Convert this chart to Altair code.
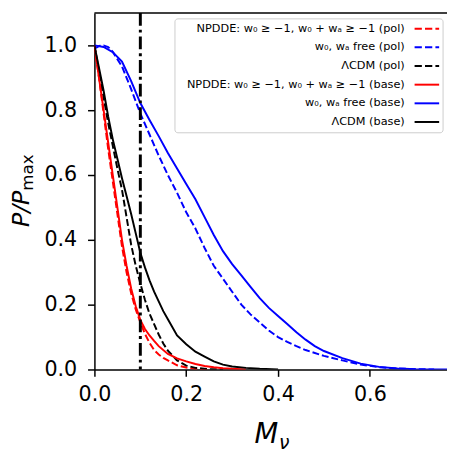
import altair as alt
import pandas as pd

# ---------------- data ----------------
names = [
    "NPDDE: w₀ ≥ −1, w₀ + wₐ ≥ −1 (pol)",
    "w₀, wₐ free (pol)",
    "ΛCDM (pol)",
    "NPDDE: w₀ ≥ −1, w₀ + wₐ ≥ −1 (base)",
    "w₀, wₐ free (base)",
    "ΛCDM (base)",
]
colors = ["#ff0000", "#0000ff", "#000000", "#ff0000", "#0000ff", "#000000"]
dashed = [True, True, True, False, False, False]

x_np_pol = [0, 0.01, 0.02, 0.03, 0.04, 0.05, 0.06, 0.07, 0.08, 0.09, 0.10, 0.11, 0.12,
            0.13, 0.14, 0.15, 0.16, 0.18, 0.20, 0.22, 0.25]
y_np_pol = [1.0, 0.90, 0.79, 0.68, 0.58, 0.48, 0.38, 0.30, 0.235, 0.185, 0.145, 0.11, 0.082,
            0.06, 0.046, 0.036, 0.028, 0.013, 0.006, 0.002, 0.0]

x_free_pol = [0, 0.01, 0.02, 0.03, 0.04, 0.06, 0.08, 0.10, 0.12, 0.14, 0.16, 0.18, 0.20,
              0.22, 0.24, 0.26, 0.28, 0.30, 0.32, 0.34, 0.36, 0.38, 0.40, 0.42, 0.44,
              0.46, 0.50, 0.54, 0.58, 0.62, 0.66, 0.70, 0.74]
y_free_pol = [0.99, 0.998, 1.0, 0.995, 0.98, 0.935, 0.865, 0.79, 0.725, 0.66, 0.60, 0.545,
              0.485, 0.435, 0.375, 0.32, 0.28, 0.24, 0.20, 0.17, 0.145, 0.12, 0.10, 0.085,
              0.072, 0.06, 0.042, 0.028, 0.015, 0.007, 0.003, 0.001, 0.0]

x_lcdm_pol = [0, 0.01, 0.02, 0.03, 0.04, 0.05, 0.06, 0.07, 0.08, 0.09, 0.10, 0.11, 0.12,
              0.13, 0.14, 0.15, 0.16, 0.18, 0.20, 0.22, 0.25, 0.28]
y_lcdm_pol = [1.0, 0.92, 0.84, 0.76, 0.69, 0.62, 0.555, 0.47, 0.385, 0.32, 0.265, 0.215,
              0.172, 0.14, 0.108, 0.08, 0.058, 0.028, 0.012, 0.005, 0.001, 0.0]

x_np_base = [0, 0.01, 0.02, 0.03, 0.04, 0.05, 0.06, 0.07, 0.08, 0.09, 0.10, 0.11, 0.12,
             0.13, 0.14, 0.16, 0.18, 0.20, 0.22, 0.24, 0.26, 0.28, 0.30, 0.33]
y_np_base = [1.0, 0.90, 0.80, 0.70, 0.60, 0.50, 0.40, 0.32, 0.25, 0.195, 0.153, 0.125, 0.105,
             0.088, 0.072, 0.048, 0.034, 0.025, 0.017, 0.011, 0.007, 0.004, 0.002, 0.0]

x_free_base = [0, 0.02, 0.04, 0.06, 0.08, 0.10, 0.12, 0.14, 0.16, 0.18, 0.20, 0.22, 0.24,
               0.26, 0.28, 0.30, 0.32, 0.34, 0.36, 0.38, 0.40, 0.42, 0.44, 0.46, 0.48,
               0.50, 0.54, 0.58, 0.62, 0.66, 0.70, 0.77]
y_free_base = [1.0, 0.995, 0.979, 0.95, 0.89, 0.822, 0.77, 0.72, 0.668, 0.62, 0.572, 0.525,
               0.47, 0.415, 0.365, 0.325, 0.29, 0.255, 0.22, 0.19, 0.165, 0.14, 0.115,
               0.092, 0.072, 0.057, 0.035, 0.018, 0.008, 0.003, 0.001, 0.0]

x_lcdm_base = [0, 0.01, 0.02, 0.03, 0.04, 0.05, 0.06, 0.07, 0.08, 0.09, 0.10, 0.11, 0.12,
               0.13, 0.14, 0.15, 0.16, 0.18, 0.20, 0.22, 0.24, 0.26, 0.28, 0.30, 0.33,
               0.36, 0.40]
y_lcdm_base = [1.0, 0.93, 0.86, 0.78, 0.71, 0.65, 0.59, 0.535, 0.48, 0.42, 0.36, 0.315,
               0.275, 0.24, 0.21, 0.18, 0.155, 0.105, 0.078, 0.055, 0.04, 0.025, 0.015,
               0.009, 0.005, 0.002, 0.0]

series_x = [x_np_pol, x_free_pol, x_lcdm_pol, x_np_base, x_free_base, x_lcdm_base]
series_y = [y_np_pol, y_free_pol, y_lcdm_pol, y_np_base, y_free_base, y_lcdm_base]

vline_x = [0.1]
x_ticks = [0.0, 0.2, 0.4, 0.6]
y_ticks = [0.0, 0.2, 0.4, 0.6, 0.8, 1.0]
x_max = 0.768
y_max = 1.1

# ---------------- layout ----------------
W, H = 359, 363
FONT = "DejaVu Sans"

xs = alt.Scale(domain=[0, x_max], nice=False, zero=False)
ys = alt.Scale(domain=[0, y_max], nice=False, zero=False)

axis_x = alt.Axis(values=x_ticks, format=".1f", title=None, grid=False,
                  labelFont=FONT, labelFontSize=21, labelColor="black",
                  tickColor="black", tickWidth=1.5, tickSize=7,
                  domainColor="black", domainWidth=1.5, labelPadding=8,
                  labelFlush=False, labelOverlap=False)
axis_y = alt.Axis(values=y_ticks, format=".1f", title=None, grid=False,
                  labelFont=FONT, labelFontSize=21, labelColor="black",
                  tickColor="black", tickWidth=1.5, tickSize=7,
                  domainColor="black", domainWidth=1.5, labelPadding=11,
                  labelFlush=False, labelOverlap=False)

layers = []
for name, xv, yv, col, dsh in zip(names, series_x, series_y, colors, dashed):
    df = pd.DataFrame({"x": xv, "y": yv, "s": name})
    kw = dict(color=col, strokeWidth=2, clip=True)
    if dsh:
        kw["strokeDash"] = [7, 3]
    layers.append(
        alt.Chart(df).mark_line(**kw).encode(
            x=alt.X("x:Q", scale=xs, axis=axis_x),
            y=alt.Y("y:Q", scale=ys, axis=axis_y),
        )
    )

vline = alt.Chart(pd.DataFrame({"x": vline_x})).mark_rule(
    color="black", strokeWidth=3, strokeDash=[13, 4, 3, 4]
).encode(x=alt.X("x:Q", scale=xs, axis=axis_x))
layers.append(vline)

# top spine
top = alt.Chart(pd.DataFrame({"a": [0]})).mark_rule(color="black", strokeWidth=1.5).encode(
    y=alt.value(0))
layers.append(top)

# legend box
box = alt.Chart(pd.DataFrame({"a": [0]})).mark_rect(
    fill="white", fillOpacity=0.8, stroke="#cccccc", strokeWidth=1, cornerRadius=3
).encode(x=alt.value(82), x2=alt.value(355), y=alt.value(6), y2=alt.value(122))
layers.append(box)

for i, (name, col, dsh) in enumerate(zip(names, colors, dashed)):
    yy = 16 + i * 19
    d = pd.DataFrame({"label": [name]})
    layers.append(
        alt.Chart(d).mark_text(align="right", baseline="middle", font=FONT,
                               fontSize=11.5, color="black").encode(
            x=alt.value(316), y=alt.value(yy), text="label:N")
    )
    rk = dict(color=col, strokeWidth=2)
    if dsh:
        rk["strokeDash"] = [7.4, 3.2]
    layers.append(
        alt.Chart(d).mark_rule(**rk).encode(
            x=alt.value(326), x2=alt.value(351), y=alt.value(yy))
    )

# axis titles
def txt(t, x, y, size, italic, angle=0):
    kw = dict(text=t, align="left", baseline="alphabetic", font=FONT,
              fontSize=size, color="black")
    if italic:
        kw["fontStyle"] = "italic"
    if angle:
        kw["angle"] = angle
    return alt.Chart(pd.DataFrame({"a": [0]})).mark_text(**kw).encode(
        x=alt.value(x), y=alt.value(y))

layers.append(txt("P/P", -67, 218, 24, True, 270))
layers.append(txt("max", -63, 181, 17, False, 270))
layers.append(txt("M", 163, 438, 28, True))
layers.append(txt("ν", 188, 444, 19, True))

chart = alt.layer(*layers).properties(
    width=W, height=H,
    autosize=alt.AutoSizeParams(type="none"),
    padding={"left": 88, "top": 1, "right": 0, "bottom": 82},
).configure_view(stroke=None)

chart.save("out.html", embed_options={"renderer": "svg", "actions": False})
